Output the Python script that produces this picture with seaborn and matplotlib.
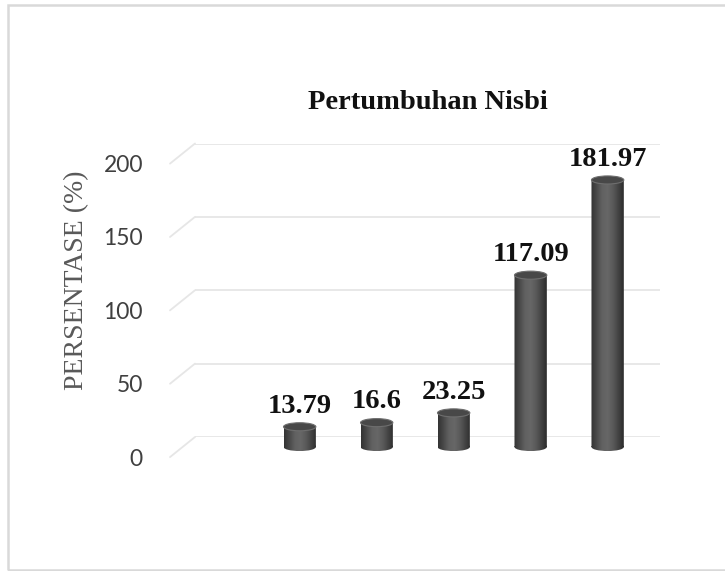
import numpy as np
import matplotlib
matplotlib.use("Agg")
import matplotlib.pyplot as plt
import seaborn as sns
from matplotlib.colors import LinearSegmentedColormap
from matplotlib.patches import Ellipse, PathPatch, Rectangle
from matplotlib.path import Path
from matplotlib.transforms import Affine2D, ScaledTranslation

# data (no category names are shown)
categories = ["1", "2", "3", "4", "5"]
values = [13.79, 16.6, 23.25, 117.09, 181.97]
yticks = [0, 50, 100, 150, 200]

sns.set_theme(style="white")
serif = ["Liberation Serif", "DejaVu Serif"]

fig = plt.figure(figsize=(7.25, 5.71), dpi=100)
ax = fig.add_axes([195 / 725, 134 / 571, 465 / 725, 293.5 / 571])

sns.barplot(x=categories, y=values, color="#4f4f4f", width=0.42,
            saturation=1, ax=ax, zorder=2)

ax.set_xlim(-1.36, 4.68)
ax.set_ylim(0, 200)
ax.set_yticks(yticks)
ax.set_xticks([])
ax.set_yticklabels([])
ax.tick_params(left=False, bottom=False)
ax.set_xlabel("")
ax.set_ylabel("")
for s in ax.spines.values():
    s.set_visible(False)

# back-wall gridlines, with the little slanted piece on the left side wall
grid_col = "#e6e6e6"
slant = 13.7   # data units, ~20px
for v in yticks:
    ax.axhline(v, color=grid_col, lw=1.3, zorder=0)
    ax.plot([-25 / 465, 0], [v - slant, v], transform=ax.get_yaxis_transform(),
            color=grid_col, lw=1.3, clip_on=False, zorder=0)
    ax.text(-52 / 465, v - 15, str(v), transform=ax.get_yaxis_transform(),
            ha="right", va="center", fontsize=16.5, family="Lato", color="#404040")

# cylinders: bars sit a bit in front of the wall, so shift them down
shift = ax.transData + ScaledTranslation(0, -10 / 100, fig.dpi_scale_trans)
cyl = LinearSegmentedColormap.from_list(
    "cyl", ["#333333", "#4a4a4a", "#616161", "#676767", "#5a5a5a", "#444444", "#2c2c2c"])
grad = np.linspace(0, 1, 64).reshape(1, -1)
cap_h = 5.5

for p, v in zip(ax.patches, values):
    x0 = p.get_x()
    w = p.get_width()
    cx = x0 + w / 2
    p.set_visible(False)   # the shaded cylinder below replaces the flat bar
    body = Path.make_compound_path(
        Path([(x0, 0), (x0 + w, 0), (x0 + w, v), (x0, v), (x0, 0)]),
        Path.unit_circle().transformed(Affine2D().scale(w / 2, cap_h / 2).translate(cx, 0)))
    shape = PathPatch(body, transform=shift, facecolor="none", edgecolor="none")
    ax.add_patch(shape)
    im = ax.imshow(grad, cmap=cyl, extent=[x0, x0 + w, -cap_h / 2, v],
                   aspect="auto", zorder=3, transform=shift, interpolation="bilinear")
    im.set_clip_box(fig.bbox)
    im.set_clip_path(shape)
    ax.add_patch(Ellipse((cx, v), w, cap_h, transform=shift, facecolor="#484848",
                         edgecolor="#6e6e6e", lw=0.8, zorder=4, clip_on=False))
    ax.annotate(f"{v:g}", (cx, v), xytext=(0, 3), textcoords="offset points",
                ha="center", va="baseline", fontsize=20.5, fontweight="bold",
                family=serif, color="#111111", annotation_clip=False)

ax.set_xlim(-1.36, 4.68)
ax.set_ylim(0, 200)

ax.set_title("Pertumbuhan Nisbi", fontsize=20.5, fontweight="bold",
             family=serif, color="#111111", pad=25)
fig.text(77 / 725, 1 - 280 / 571, "PERSENTASE (%)", rotation=90, ha="center",
         va="center", fontsize=20, family=serif, color="#595959")

# light frame around the chart area
fig.patches.append(Rectangle((8 / 725, 1 / 571), 1.2, 1 - 6 / 571,
                             transform=fig.transFigure, fill=False,
                             edgecolor="#d9d9d9", lw=1.8))

fig.savefig("out.png", dpi=100)
